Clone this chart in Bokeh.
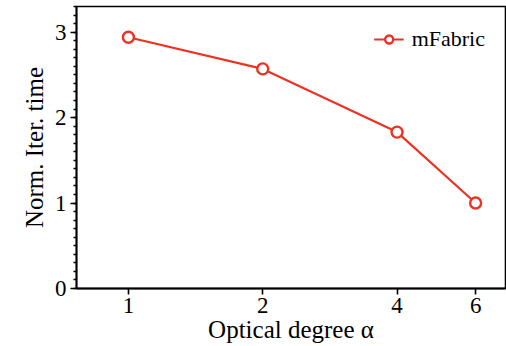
from bokeh.plotting import figure
from bokeh.models import Range1d, FixedTicker, PrintfTickFormatter, Legend, LegendItem
from bokeh.embed import file_html
from bokeh.resources import INLINE

optical_degree = [1, 2, 4, 6]
norm_iter_time = [2.94, 2.57, 1.83, 1.0]
series_name = "mFabric"
x_ticks = [1, 2, 4, 6]
y_ticks = [0, 1, 2, 3]

RED = "#ec3223"
FONT = "Liberation Serif"

p = figure(width=506, height=346, output_backend="svg", toolbar_location=None,
           x_axis_type="log", x_range=Range1d(0.765, 7.0), y_range=Range1d(0, 3.3),
           min_border_left=76, min_border_right=1, min_border_top=6, min_border_bottom=58)

line = p.line(optical_degree, norm_iter_time, line_color=RED, line_width=2.2)
pts = p.scatter(optical_degree, norm_iter_time, size=11, marker="circle",
                fill_color="white", line_color=RED, line_width=2.4)

legend = Legend(items=[LegendItem(label=series_name, renderers=[line, pts])],
                location="top_right", border_line_color=None, background_fill_alpha=0,
                label_text_font=FONT, label_text_font_size="22px", label_text_color="black",
                glyph_width=30, label_standoff=8, margin=20, padding=6, spacing=0)
p.add_layout(legend)

p.grid.visible = False
p.outline_line_color = "black"
p.outline_line_width = 1.6

p.xaxis.ticker = FixedTicker(ticks=x_ticks, minor_ticks=[])
p.xaxis.formatter = PrintfTickFormatter(format="%d")
ymin = [i / 10 for i in range(0, 34)]
p.yaxis.ticker = FixedTicker(ticks=y_ticks, minor_ticks=ymin)

for ax in (p.xaxis[0], p.yaxis[0]):
    ax.axis_line_width = 1.8
    ax.major_tick_line_width = 1.6
    ax.minor_tick_line_width = 1.4
    ax.major_tick_out = 6
    ax.major_tick_in = 0
    ax.minor_tick_out = 3
    ax.minor_tick_in = 0
    ax.major_label_text_font = FONT
    ax.major_label_text_font_size = "23px"
    ax.major_label_text_color = "black"
    ax.axis_label_text_font = FONT
    ax.axis_label_text_font_size = "25px"
    ax.axis_label_text_font_style = "normal"
    ax.axis_label_text_color = "black"
    ax.axis_line_color = "black"
    ax.major_tick_line_color = "black"
    ax.minor_tick_line_color = "black"

p.xaxis.axis_label = "Optical degree α"
p.yaxis.axis_label = "Norm. Iter. time"
p.xaxis.major_label_standoff = 3
p.yaxis.major_label_standoff = 4
p.xaxis.axis_label_standoff = 0
p.yaxis.axis_label_standoff = 4

open("out.html", "w").write(file_html(p, INLINE))
